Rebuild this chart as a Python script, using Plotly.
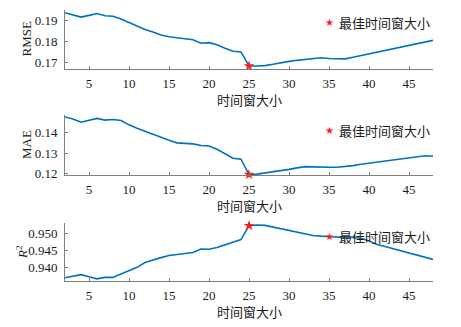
import plotly.graph_objects as go

# Window sizes evaluated
window = list(range(2, 49))

rmse = [0.1935, 0.1925, 0.1914, 0.1922, 0.1931, 0.1920, 0.1918, 0.1905, 0.1889, 0.1871,
        0.1855, 0.1843, 0.1829, 0.1820, 0.1814, 0.1811, 0.1806, 0.1789, 0.1792, 0.1782,
        0.1766, 0.1751, 0.1748, 0.1681, 0.1681, 0.1683, 0.1689, 0.1697, 0.1703, 0.1708,
        0.1712, 0.1715, 0.1720, 0.1717, 0.1715, 0.1715, 0.1723, 0.1731, 0.1740, 0.1748,
        0.1755, 0.1762, 0.1769, 0.1780, 0.1788, 0.1794, 0.1803]

mae = [0.1474, 0.1464, 0.1449, 0.1459, 0.1467, 0.1459, 0.1462, 0.1457, 0.1436, 0.1420,
       0.1405, 0.1390, 0.1375, 0.1362, 0.1349, 0.1348, 0.1344, 0.1336, 0.1334, 0.1318,
       0.1295, 0.1275, 0.1270, 0.1196, 0.1198, 0.1203, 0.1208, 0.1215, 0.1221, 0.1228,
       0.1234, 0.1233, 0.1231, 0.1231, 0.1231, 0.1234, 0.1239, 0.1246, 0.1251, 0.1256,
       0.1262, 0.1267, 0.1274, 0.1279, 0.1284, 0.1287, 0.1284]

r2 = [0.9371, 0.9375, 0.9380, 0.9374, 0.9368, 0.9372, 0.9372, 0.9382, 0.9391, 0.9401,
      0.9415, 0.9423, 0.9429, 0.9435, 0.9438, 0.9440, 0.9444, 0.9454, 0.9453, 0.9458,
      0.9465, 0.9473, 0.9481, 0.9521, 0.9523, 0.9522, 0.9517, 0.9512, 0.9506, 0.9501,
      0.9497, 0.9493, 0.9491, 0.9489, 0.9488, 0.9487, 0.9487, 0.9485, 0.9477, 0.9467,
      0.9461, 0.9455, 0.9449, 0.9443, 0.9438, 0.9432, 0.9424]

best_window = 25
legend_label = "最佳时间窗大小"
x_title = "时间窗大小"
y_titles = ["RMSE", "MAE", "<i>R</i><sup>2</sup>"]
y_ticks = [[0.17, 0.18, 0.19], [0.12, 0.13, 0.14], [0.940, 0.945, 0.950]]
y_tickfmt = [".2f", ".2f", ".3f"]
y_ranges = [[0.16667, 0.19476], [0.11937, 0.14836], [0.93617, 0.95288]]
x_ticks = [5, 10, 15, 20, 25, 30, 35, 40, 45]

W, H = 461, 327
# plot-area pixel boxes (top, bottom) of each panel
panels_px = [(10, 69), (115, 175), (223, 281)]
x_left, x_right = 65, 433

series = [rmse, mae, r2]
line_color = "#0072BD"
axis_color = "#7f7f7f"
star_color = "#ff1a1a"
serif = "Liberation Serif, Times New Roman, serif"
cjk = "Noto Sans CJK SC, sans-serif"

fig = go.Figure()
layout = dict(
    width=W, height=H, margin=dict(l=0, r=0, t=0, b=0),
    paper_bgcolor="white", plot_bgcolor="white", showlegend=False,
)
annotations = []

for i, vals in enumerate(series):
    n = "" if i == 0 else str(i + 1)
    xa, ya = "x" + n, "y" + n
    fig.add_trace(go.Scatter(x=window, y=vals, mode="lines", xaxis=xa, yaxis=ya,
                             line=dict(color=line_color, width=1.6), hoverinfo="skip"))
    bi = window.index(best_window)
    fig.add_trace(go.Scatter(x=[best_window], y=[vals[bi]], mode="markers", xaxis=xa, yaxis=ya,
                             marker=dict(symbol="star", size=8, color=star_color, line=dict(width=0)),
                             cliponaxis=False, name=legend_label))
    top, bot = panels_px[i]
    common = dict(showgrid=False, zeroline=False, showline=True, linecolor=axis_color, linewidth=1,
                  ticks="inside", ticklen=3, tickcolor=axis_color, tickwidth=1,
                  tickfont=dict(family=serif, size=13, color="#1a1a1a"), automargin=False)
    layout["xaxis" + n] = dict(domain=[x_left / W, x_right / W], range=[2, 48], tickvals=x_ticks,
                               anchor=ya, ticklabelstandoff=2, **common)
    layout["yaxis" + n] = dict(domain=[1 - bot / H, 1 - top / H], range=y_ranges[i],
                               tickvals=y_ticks[i], tickformat=y_tickfmt[i], anchor=xa,
                               ticklabelstandoff=4, **common)
    # x-axis title
    annotations.append(dict(text=x_title, xref=xa + " domain", yref=ya + " domain", x=0.5, y=0,
                            xanchor="center", yanchor="top", yshift=-19, showarrow=False,
                            font=dict(family=cjk, size=13, color="#1a1a1a")))
    # y-axis title
    annotations.append(dict(text=y_titles[i], xref=xa + " domain", yref=ya + " domain", x=0, y=0.5,
                            xanchor="center", yanchor="middle", xshift=-39 if i < 2 else -43,
                            textangle=-90, showarrow=False,
                            font=dict(family=serif, size=13, color="#1a1a1a")))

# legend entries: red star followed by the label, one per panel
legend_y_px = [23, 130, 236]
for i, ly in enumerate(legend_y_px):
    annotations.append(dict(text="★", xref="paper", yref="paper", x=329 / W, y=1 - ly / H,
                            xanchor="center", yanchor="middle", showarrow=False,
                            font=dict(family="DejaVu Sans", size=10, color=star_color)))
    annotations.append(dict(text=legend_label, xref="paper", yref="paper", x=337 / W, y=1 - ly / H,
                            xanchor="left", yanchor="middle", showarrow=False,
                            font=dict(family=cjk, size=13, color="#1a1a1a")))

layout["annotations"] = annotations
fig.update_layout(**layout)
fig.write_html("out.html")
